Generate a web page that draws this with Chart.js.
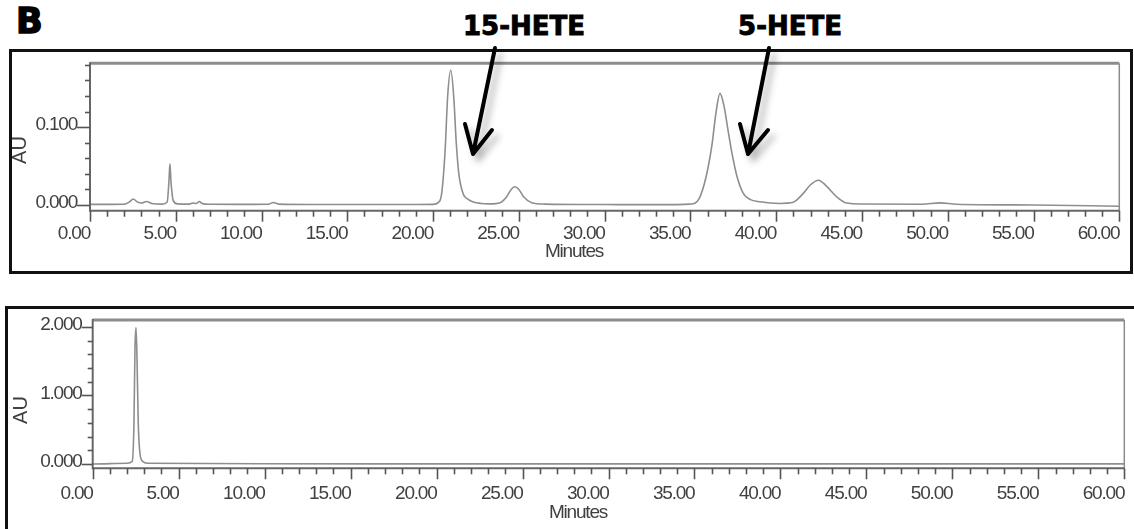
<!DOCTYPE html>
<html>
<head>
<meta charset="utf-8">
<title>HPLC chromatograms</title>
<script src="https://cdn.jsdelivr.net/npm/chart.js@4.4.1/dist/chart.umd.min.js"></script>
<style>
  html, body { margin: 0; padding: 0; background: #fff; }
  body { width: 1134px; height: 529px; overflow: hidden; position: relative; }
  .box { position: absolute; border: 3px solid #111; box-sizing: border-box; }
  canvas { position: absolute; left: 0; }
  .lbl { position: absolute; font-family: "DejaVu Sans", sans-serif; font-weight: bold; color: #000;
         line-height: 1; white-space: nowrap; -webkit-text-stroke: 0.9px #000; }
  svg { position: absolute; left: 0; top: 0; }
</style>
</head>
<body>
<div class="box" style="left:9px;top:49px;width:1124px;height:225px"></div>
<div class="box" style="left:5px;top:306px;width:1132px;height:240px"></div>
<canvas id="chartTop" width="1134" height="224" style="top:50px"></canvas>
<canvas id="chartBottom" width="1134" height="222" style="top:307px"></canvas>

<div class="lbl" style="left:16px;top:4px;font-size:35px;-webkit-text-stroke:1.5px #000">B</div>
<div class="lbl" style="left:524px;top:13px;font-size:26px;transform:translateX(-50%)">15-HETE</div>
<div class="lbl" style="left:790px;top:13px;font-size:26px;transform:translateX(-50%)">5-HETE</div>

<svg width="1134" height="529">
  <defs>
    <filter id="shadow" x="-50%" y="-50%" width="200%" height="200%">
      <feDropShadow dx="5" dy="6" stdDeviation="3.5" flood-color="#000" flood-opacity="0.3"/>
    </filter>
  </defs>
  <g stroke="#000" stroke-width="4" stroke-linecap="round" stroke-linejoin="round" fill="none" filter="url(#shadow)">
    <path d="M495 48 L473 154 M465 124 L473 154 L492 130"/>
    <path d="M769 48 L748 154 M740 124 L748 154 L768 130"/>
  </g>
</svg>

<script>
const topMinutes = [0, 1.0, 2.0, 2.3, 2.52, 2.75, 3.0, 3.3, 3.6, 4.2, 4.5, 4.6, 4.66, 4.72, 4.85, 5.1,
  5.8, 6.0, 6.2, 6.37, 6.55, 7.0, 9.0, 10.4, 10.69, 11.0, 13.0, 16.0, 19.0, 20.0, 20.3, 20.5, 20.7,
  20.85, 21.03, 21.2, 21.35, 21.5, 21.76, 22.0, 22.34, 22.8, 23.3, 23.9, 24.29, 24.55, 24.77, 25.0,
  25.26, 25.75, 26.5, 30.0, 33.0, 35.0, 35.5, 35.9, 36.24, 36.5, 36.72, 36.95, 37.2, 37.41, 37.7,
  38.08, 38.47, 39.06, 40.2, 41.0, 41.19, 41.58, 42.0, 42.46, 42.9, 43.52, 44.1, 45.0, 48.5, 49.55,
  50.5, 55.0, 60.0];
const topAU = [0.0008, 0.0008, 0.001, 0.004, 0.0077, 0.004, 0.0025, 0.0045, 0.002, 0.0012, 0.004, 0.03,
  0.053, 0.03, 0.006, 0.0015, 0.0012, 0.0025, 0.002, 0.0045, 0.0018, 0.001, 0.0008, 0.001, 0.0032,
  0.0012, 0.0007, 0.0006, 0.0006, 0.0008, 0.003, 0.015, 0.07, 0.14, 0.1733, 0.14, 0.08, 0.04, 0.014,
  0.008, 0.004, 0.002, 0.0015, 0.003, 0.0106, 0.02, 0.0234, 0.02, 0.011, 0.003, 0.0012, 0.0006,
  0.0005, 0.0012, 0.008, 0.035, 0.075, 0.12, 0.1434, 0.128, 0.095, 0.068, 0.038, 0.015, 0.0073,
  0.0042, 0.002, 0.0035, 0.0064, 0.015, 0.026, 0.0319, 0.025, 0.0106, 0.0025, 0.0013, 0.001, 0.0028,
  0.001, 0.0, -0.0015];

// Datos del cromatograma inferior
const bottomMinutes = [0, 2.0, 2.3, 2.4, 2.46, 2.52, 2.58, 2.65, 2.75, 2.9, 3.2, 10, 20, 30, 40, 50, 60];
const bottomAU = [0.0, 0.01, 0.04, 0.6, 1.7, 1.99, 1.5, 0.6, 0.15, 0.04, 0.01, 0.003, 0.002, 0.002,
  0.002, 0.002, 0.002];

// Etiquetas de los ejes
const xLabels = ['0.00', '5.00', '10.00', '15.00', '20.00', '25.00', '30.00', '35.00', '40.00',
  '45.00', '50.00', '55.00', '60.00'];
const yTopLabels = ['0.000', '0.100'];
const yBottomLabels = ['0.000', '1.000', '2.000'];

const TICK_FONT = { family: '"Liberation Sans", Arial, sans-serif', size: 19 };
const TICK_COLOR = '#404040';
const TIGHT = '-1.2px';

// Marco, marcas de los ejes y títulos al estilo del software del cromatógrafo
const chromFrame = {
  id: 'chromFrame',
  beforeLayout(chart) { chart.ctx.letterSpacing = TIGHT; },
  beforeDraw(chart) { chart.ctx.letterSpacing = TIGHT; },
  afterDraw(chart, args, opts) {
    const { ctx, chartArea: a, scales: { x, y } } = chart;
    const line = (x1, y1, x2, y2) => { ctx.beginPath(); ctx.moveTo(x1, y1); ctx.lineTo(x2, y2); ctx.stroke(); };
    ctx.save();
    ctx.strokeStyle = '#8c8c8c';
    ctx.lineWidth = 3;
    line(a.left, a.top, a.right, a.top);
    ctx.lineWidth = 1.5;
    line(a.right, a.top, a.right, a.bottom);
    ctx.strokeStyle = '#666';
    ctx.lineWidth = 2;
    line(a.left, a.top - 1, a.left, a.bottom + 1);
    line(a.left, a.bottom, a.right, a.bottom);
    ctx.strokeStyle = '#555';
    ctx.lineWidth = 1.6;
    for (const t of y.ticks) {
      const py = Math.round(y.getPixelForValue(t.value)) + 0.5;
      line(a.left - (t.label ? opts.yLongTick : 5), py, a.left, py);
    }
    for (const t of x.ticks) {
      const px = Math.round(x.getPixelForValue(t.value)) + 0.5;
      line(px, a.bottom, px, a.bottom + (t.label ? 11 : 6));
    }
    ctx.fillStyle = TICK_COLOR;
    ctx.textAlign = 'center';
    ctx.textBaseline = 'middle';
    ctx.font = '19px "Liberation Sans", sans-serif';
    ctx.fillText('Minutes', opts.minutesX, opts.minutesY);
    ctx.letterSpacing = '0px';
    ctx.translate(opts.auX, opts.auY);
    ctx.rotate(-Math.PI / 2);
    ctx.font = '20px "Liberation Sans", sans-serif';
    ctx.fillText('AU', 0, 0);
    ctx.restore();
  }
};

function makeChart(canvas, minutes, values, cfg) {
  return new Chart(canvas, {
    type: 'line',
    data: {
      datasets: [{
        data: minutes.map((m, i) => ({ x: m, y: values[i] })),
        borderColor: '#8e8e8e',
        borderWidth: 1.6,
        pointRadius: 0,
        fill: false,
        cubicInterpolationMode: 'monotone'
      }]
    },
    options: {
      responsive: false,
      animation: false,
      devicePixelRatio: 1,
      layout: { padding: 0 },
      plugins: {
        legend: { display: false },
        tooltip: { enabled: false },
        chromFrame: cfg.frame
      },
      scales: {
        x: {
          type: 'linear',
          min: 0,
          max: 60,
          grid: { display: false, drawTicks: false },
          border: { display: false },
          ticks: {
            stepSize: 1,
            maxTicksLimit: 1000,
            autoSkip: false,
            maxRotation: 0,
            align: 'end',
            padding: cfg.xPad,
            color: TICK_COLOR,
            font: TICK_FONT,
            callback: v => {
              const s = Number(v).toFixed(2);
              return xLabels.includes(s) ? s : '';
            }
          },
          afterFit: s => {
            s.height = cfg.xHeight;
            s.paddingLeft = 0;
            s.paddingRight = cfg.padRight;
          }
        },
        y: {
          min: cfg.yMin,
          max: cfg.yMax,
          grid: { display: false, drawTicks: false },
          border: { display: false },
          ticks: {
            stepSize: cfg.yStep,
            maxTicksLimit: 1000,
            includeBounds: false,
            autoSkip: false,
            padding: cfg.frame.yLongTick,
            labelOffset: -2,
            color: TICK_COLOR,
            font: TICK_FONT,
            callback: v => {
              const s = Number(v).toFixed(3);
              return cfg.yLabels.includes(s) ? s : '';
            }
          },
          afterFit: s => {
            s.width = cfg.yWidth;
            s.paddingTop = cfg.padTop;
            s.paddingBottom = 0;
          }
        }
      }
    },
    plugins: [chromFrame]
  });
}

makeChart(document.getElementById('chartTop'), topMinutes, topAU, {
  padTop: 13.3, padRight: 14.7, xHeight: 63.3, yWidth: 90, xPad: 12,
  yMin: -0.0073, yMax: 0.182, yStep: 0.02, yLabels: yTopLabels,
  frame: { yLongTick: 13, minutesX: 574, minutesY: 201.7, auX: 20, auY: 100 }
});

makeChart(document.getElementById('chartBottom'), bottomMinutes, bottomAU, {
  padTop: 13, padRight: 9.7, xHeight: 60.7, yWidth: 92.7, xPad: 14.5,
  yMin: -0.063, yMax: 2.102, yStep: 0.2, yLabels: yBottomLabels,
  frame: { yLongTick: 11, minutesX: 578, minutesY: 205.5, auX: 21.5, auY: 103 }
});
</script>
</body>
</html>
